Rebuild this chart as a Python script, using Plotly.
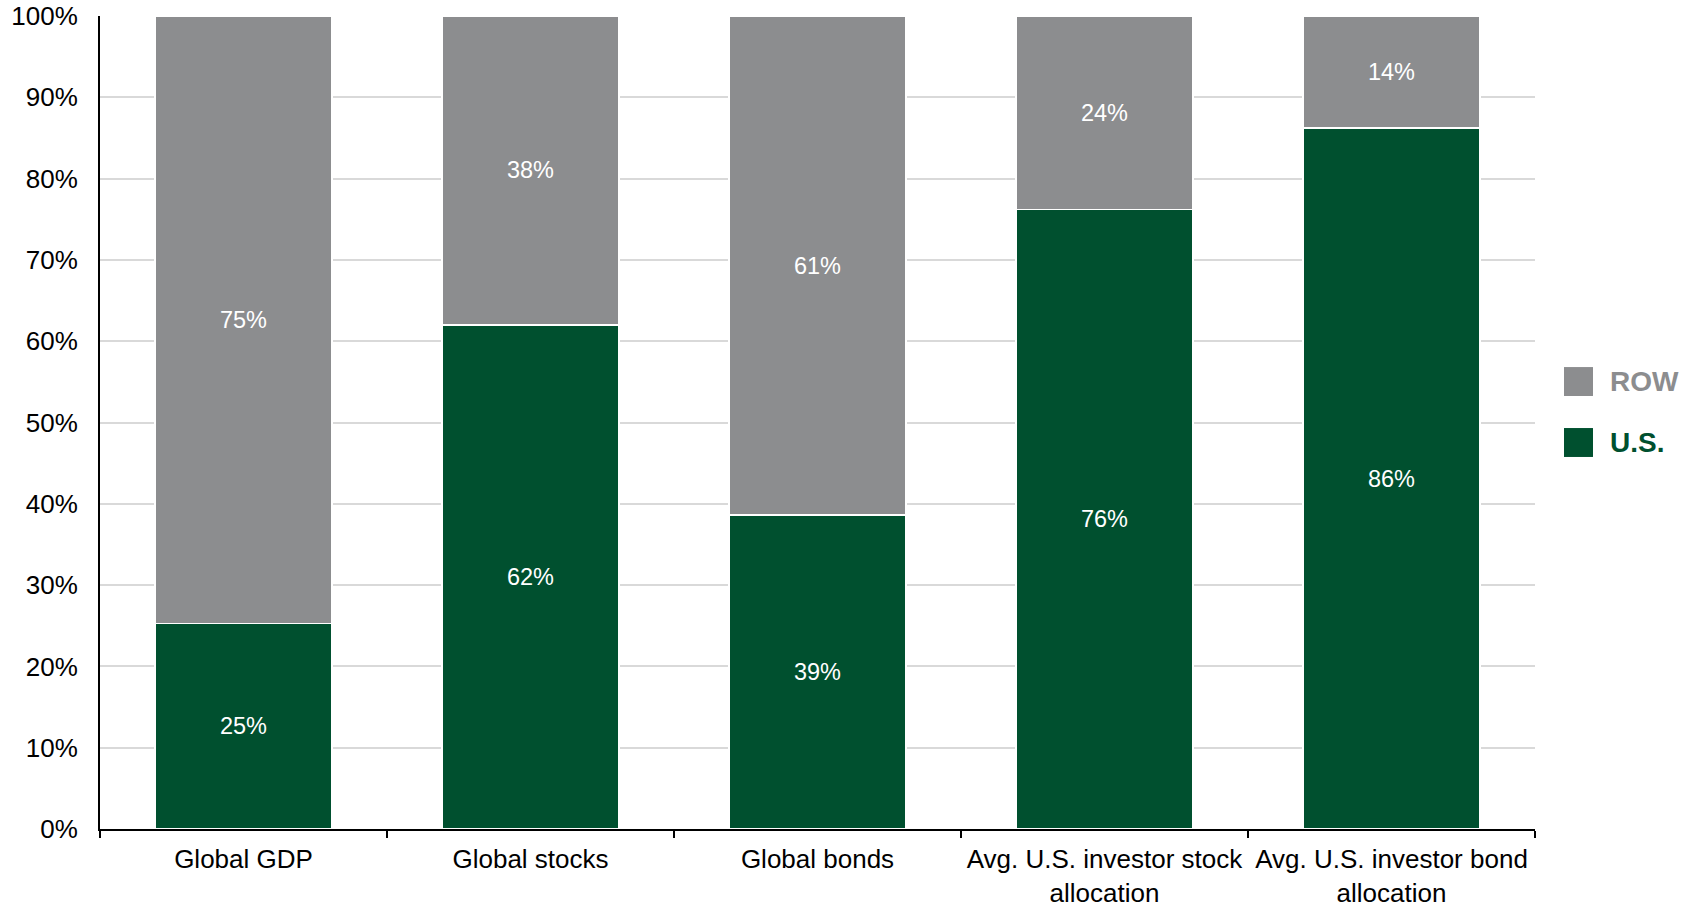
import plotly.graph_objects as go

categories = ["Global GDP", "Global stocks", "Global bonds",
              "Avg. U.S. investor stock<br>allocation",
              "Avg. U.S. investor bond<br>allocation"]
us_share = [25.3, 62.0, 38.6, 76.2, 86.2]
row_share = [74.7, 38.0, 61.4, 23.8, 13.8]
y_ticks = [0, 10, 20, 30, 40, 50, 60, 70, 80, 90, 100]
y_tick_labels = [f"{v}%" for v in y_ticks]

GREEN = "#00502F"
GRAY = "#8C8D8F"
FONT = "Liberation Sans, Arial, sans-serif"

fig = go.Figure()
fig.add_trace(go.Bar(
    x=categories, y=us_share, name="U.S.",
    marker=dict(color=GREEN, line=dict(color="white", width=1.5)),
    texttemplate="%{y:.0f}%", textposition="inside", insidetextanchor="middle",
    textfont=dict(color="white", size=23.5, family=FONT), showlegend=False,
))
fig.add_trace(go.Bar(
    x=categories, y=row_share, name="ROW",
    marker=dict(color=GRAY, line=dict(color="white", width=1.5)),
    texttemplate="%{y:.0f}%", textposition="inside", insidetextanchor="middle",
    textfont=dict(color="white", size=23.5, family=FONT), showlegend=False,
))

# custom legend (large squares with bold coloured labels)
legend_items = [("ROW", GRAY, 0.5504), ("U.S.", GREEN, 0.4754)]
for label, color, yc in legend_items:
    fig.add_shape(type="rect", xref="paper", yref="paper",
                  x0=1.0202, x1=1.0404, y0=yc - 0.0178, y1=yc + 0.0178,
                  fillcolor=color, line=dict(width=0))
    fig.add_annotation(text=f"<b>{label}</b>", xref="paper", yref="paper",
                       x=1.0510, y=yc, xanchor="left", yanchor="middle",
                       showarrow=False, font=dict(size=28, color=color, family=FONT))

fig.update_layout(
    barmode="stack", bargap=0.383,
    width=1699, height=906,
    margin=dict(l=100, r=164, t=16, b=77),
    plot_bgcolor="white", paper_bgcolor="white",
    font=dict(family=FONT, size=26, color="#000000"),
    showlegend=False,
)
fig.update_xaxes(
    type="category", showline=True, linecolor="#000000", linewidth=2,
    ticks="outside", tickson="boundaries", ticklen=7, tickwidth=2, tickcolor="#000000",
    tickfont=dict(size=26, color="#000000", family=FONT), showgrid=False,
    automargin=False, ticklabelstandoff=6, tickangle=0,
)
fig.update_yaxes(
    range=[0, 100], tickvals=y_ticks, ticktext=y_tick_labels,
    showline=True, linecolor="#000000", linewidth=2, ticks="",
    showgrid=True, gridcolor="#D9D9D9", gridwidth=1.5,
    tickfont=dict(size=26, color="#000000", family=FONT),
    ticklabelstandoff=15, zeroline=False, automargin=False,
)

fig.write_html("out.html")
